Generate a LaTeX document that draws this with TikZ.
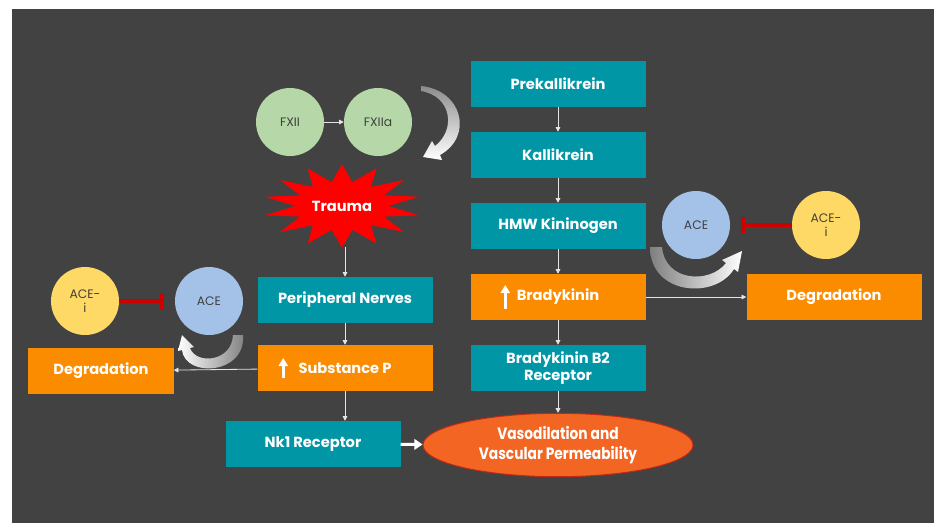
\documentclass[tikz,border=0pt]{standalone}
\usepackage{fontspec}
\usepackage{graphicx}
\setmainfont{Poppins}
\usetikzlibrary{shapes.geometric,arrows.meta}

\definecolor{slide}{RGB}{66,66,66}
\definecolor{tealfill}{RGB}{0,150,166}
\definecolor{orangefill}{RGB}{251,140,0}
\definecolor{vasofill}{RGB}{242,101,34}
\definecolor{vasoline}{RGB}{196,40,20}
\definecolor{fxgreen}{RGB}{182,215,168}
\definecolor{aceblue}{RGB}{164,194,232}
\definecolor{aceyellow}{RGB}{255,217,102}
\definecolor{inhibred}{RGB}{204,0,0}
\definecolor{linkgray}{RGB}{228,228,228}

\begin{document}
\begin{tikzpicture}[x=0.03cm,y=-0.03cm,
    box/.style={rectangle,minimum width=5.25cm,minimum height=1.38cm,inner sep=0,text=white,align=center,font=\fontsize{12.5}{14.5}\selectfont\bfseries},
    cbox/.style={box,fill=tealfill},
    obox/.style={box,fill=orangefill},
    ball/.style={circle,minimum size=2.04cm,inner sep=0,text=black!75,align=center,font=\fontsize{10.5}{12}\selectfont},
    burst/.style={star,star points=14,star point ratio=1.7,fill=red,minimum size=2.5cm,inner sep=0,xscale=1.9},
    link/.style={draw=linkgray,line width=0.7pt,-{Triangle[length=4pt,width=4pt]}},
    inhib/.style={draw=inhibred,line width=3.2pt,-{Bar[width=14pt]},shorten >=0.33cm},
    uparr/.style={draw=white,line width=2.2pt,-{Triangle[length=7pt,width=8pt]}}]
  \fill[slide] (12,9) rectangle (934,523);
  \useasboundingbox (0,0) rectangle (934,523);

  % gradient swooshes
  \shade[top color=black!45,bottom color=white] (421,86) .. controls (462,90) and (474,136) .. (440,155) -- (442,160) -- (423,157) -- (432,141) -- (435,146) .. controls (456,130) and (452,96) .. (421,91) -- cycle;
  \shade[left color=white,right color=black!50] (243,335) .. controls (246,375) and (185,378) .. (182,350) -- (178,351) -- (182,335) -- (194,347) -- (190,348) .. controls (196,365) and (232,362) .. (233,335) -- cycle;
  \shade[left color=black!50,right color=white] (650,247) .. controls (650,295) and (715,300) .. (734,269) -- (738,272) -- (742,251) -- (722,260) -- (726,263) .. controls (710,284) and (665,282) .. (662,247) -- cycle;

  % kallikrein-kinin column
  \node[cbox] (pk) at (558,84) {Prekallikrein};
  \node[cbox] (kal) at (558,155) {Kallikrein};
  \node[cbox] (hmw) at (558,226) {HMW Kininogen};
  \node[obox] (bk) at (558,297) {Bradykinin};
  \node[cbox] (b2) at (558,368) {Bradykinin B2\\Receptor};
  \node[ellipse,fill=vasofill,draw=vasoline,line width=0.8pt,minimum width=8.1cm,minimum height=1.9cm,inner sep=0,text=white,align=center,font=\fontsize{14}{16.5}\selectfont\bfseries] (vaso) at (558,445) {\scalebox{0.84}[1]{Vasodilation and}\\\scalebox{0.84}[1]{Vascular Permeability}};

  % contact activation
  \node[ball,fill=fxgreen] (fxii) at (290,122) {FXII};
  \node[ball,fill=fxgreen] (fxiia) at (378,122) {FXIIa};

  % substance P column
  \node[burst] (burst) at (342,206) {};
  \node[text=white,font=\fontsize{12.5}{14.5}\selectfont\bfseries] (trauma) at (burst) {Trauma};
  \coordinate (traumatip) at (345,247);
  \node[cbox] (pn) at (345,300) {Peripheral Nerves};
  \node[obox] (sp) at (345,368) {Substance P};
  \node[cbox] (nk1) at (313,444) {Nk1 Receptor};

  % ACE
  \node[ball,fill=aceblue] (ace1) at (209,301) {ACE};
  \node[ball,fill=aceyellow] (acei1) at (85,301) {ACE-\\i};
  \node[obox,minimum width=4.35cm] (deg1) at (101,371) {Degradation};
  \node[ball,fill=aceblue] (ace2) at (696,225) {ACE};
  \node[ball,fill=aceyellow] (acei2) at (826,225) {ACE-\\i};
  \node[obox] (deg2) at (834,297) {Degradation};

  \draw[uparr] ([xshift=1.05cm,yshift=-0.36cm]bk.west) -- ++(0,-24);
  \draw[uparr] ([xshift=0.78cm,yshift=-0.3cm]sp.west) -- ++(0,-20);

  \draw[link] (pk) -- (kal);
  \draw[link] (kal) -- (hmw);
  \draw[link] (hmw) -- (bk);
  \draw[link] (bk) -- (b2);
  \draw[link] (b2) -- (vaso);
  \draw[link] (bk) -- (deg2);
  \draw[link] (fxii) -- (fxiia);
  \draw[link] (traumatip) -- (pn);
  \draw[link] (pn) -- (sp);
  \draw[link] (sp.south) -- (sp.south |- nk1.north);
  \draw[link] (sp) -- (deg1);
  \draw[draw=white,line width=2.5pt,-{Triangle[length=7pt,width=9pt]}] (nk1) -- (vaso);
  \draw[inhib] (acei1) -- (ace1);
  \draw[inhib] (acei2) -- (ace2);
\end{tikzpicture}
\end{document}
